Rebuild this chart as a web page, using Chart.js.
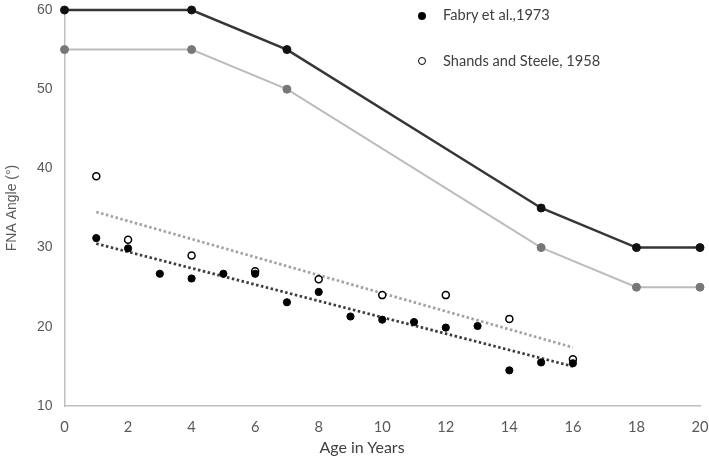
<!DOCTYPE html>
<html><head><meta charset="utf-8">
<script src="https://cdn.jsdelivr.net/npm/chart.js@4/dist/chart.umd.min.js"></script>
<style>
html,body{margin:0;padding:0;background:#fff;}
#wrap{position:relative;width:709px;height:458px;}
.leg{position:absolute;font-family:"Lato","Open Sans",sans-serif;font-size:14.6px;color:#404040;white-space:nowrap;line-height:18px;}
.dot{position:absolute;width:8px;height:8px;border-radius:50%;box-sizing:border-box;}
#xt{position:absolute;left:262px;width:200px;top:437px;text-align:center;font-family:"Lato","Open Sans",sans-serif;font-size:16px;color:#404040;line-height:20px;}
</style></head>
<body>
<div id="wrap">
<canvas id="c" width="709" height="458"></canvas>
<div class="dot" style="left:418px;top:12px;background:#000;"></div>
<div class="leg" style="left:443px;top:6px;">Fabry et al.,1973</div>
<div class="dot" style="left:418px;top:57px;border:1.5px solid #000;background:#fff;"></div>
<div class="leg" style="left:443px;top:52px;">Shands and Steele, 1958</div>
<div id="xt">Age in Years</div>
</div>
<script>
const upperAges = [0, 4, 7, 15, 18, 20];
const upperDark = [60, 60, 55, 35, 30, 30];
const upperLight = [55, 55, 50, 30, 25, 25];
const fabryAges = [1, 2, 3, 4, 5, 6, 7, 8, 9, 10, 11, 12, 13, 14, 15, 16];
const fabryAngles = [31.2, 29.9, 26.7, 26.1, 26.7, 26.7, 23.1, 24.4, 21.3, 20.9, 20.6, 19.9, 20.1, 14.5, 15.5, 15.4];
const shandsAges = [1, 2, 4, 6, 8, 10, 12, 14, 16];
const shandsAngles = [39.0, 31.0, 29.0, 27.0, 26.0, 24.0, 24.0, 21.0, 15.9];
const trendAges = [1, 16];
const fabryTrend = [30.5, 15.0];
const shandsTrend = [34.5, 17.4];
const xTicks = [0, 2, 4, 6, 8, 10, 12, 14, 16, 18, 20];
const yTicks = [10, 20, 30, 40, 50, 60];

const pts = (xs, ys) => xs.map((x, i) => ({x: x, y: ys[i]}));

new Chart(document.getElementById('c'), {
  type: 'scatter',
  data: {
    datasets: [
      {data: pts(upperAges, upperDark), showLine: true, borderColor: '#363636', borderWidth: 2.5,
       pointBackgroundColor: '#111', pointBorderColor: '#111', pointRadius: 4, pointBorderWidth: 1, clip: false, order: 5},
      {data: pts(upperAges, upperLight), showLine: true, borderColor: '#bcbcbc', borderWidth: 2,
       pointBackgroundColor: '#777', pointBorderColor: '#777', pointRadius: 4, pointBorderWidth: 1, clip: false, order: 6},
      {data: pts(trendAges, shandsTrend), showLine: true, borderColor: '#a3a3a3', borderWidth: 2.75,
       borderDash: [2.5, 2.5], pointRadius: 0, order: 4},
      {data: pts(trendAges, fabryTrend), showLine: true, borderColor: '#3d3d3d', borderWidth: 2.75,
       borderDash: [2.5, 2.5], pointRadius: 0, order: 3},
      {data: pts(shandsAges, shandsAngles), showLine: false, pointRadius: 3.5, pointBorderWidth: 1.5,
       pointBackgroundColor: '#fff', pointBorderColor: '#000', order: 2},
      {data: pts(fabryAges, fabryAngles), showLine: false, pointRadius: 3.6, pointBorderWidth: 1,
       pointBackgroundColor: '#000', pointBorderColor: '#000', order: 1}
    ]
  },
  options: {
    responsive: false,
    animation: false,
    layout: {padding: 0},
    plugins: {legend: {display: false}, tooltip: {enabled: false}},
    scales: {
      x: {
        type: 'linear', min: 0, max: 20,
        afterBuildTicks: s => { s.ticks = xTicks.map(v => ({value: v})); },
        afterFit: s => { s.height = 52; s.paddingRight = 9; },
        grid: {display: false, drawTicks: false},
        border: {color: '#bfbfbf', width: 1.5},
        ticks: {color: '#595959', font: {family: "Lato, 'Open Sans', sans-serif", size: 14.7}, padding: 12, maxRotation: 0},
        title: {display: false}
      },
      y: {
        type: 'linear', min: 10, max: 60,
        afterBuildTicks: s => { s.ticks = yTicks.map(v => ({value: v})); },
        afterFit: s => { s.width = 64.5; s.paddingTop = 10; },
        grid: {display: false, drawTicks: false},
        border: {color: '#bfbfbf', width: 1.5},
        ticks: {color: '#595959', font: {family: "'Liberation Sans', Arial, sans-serif", size: 14}, padding: 12},
        title: {display: true, text: 'FNA Angle (°)', color: '#595959',
                font: {family: "'Liberation Sans', Arial, sans-serif", size: 14}, padding: {top: 4, bottom: 0}}
      }
    }
  }
});
</script>
</body></html>
